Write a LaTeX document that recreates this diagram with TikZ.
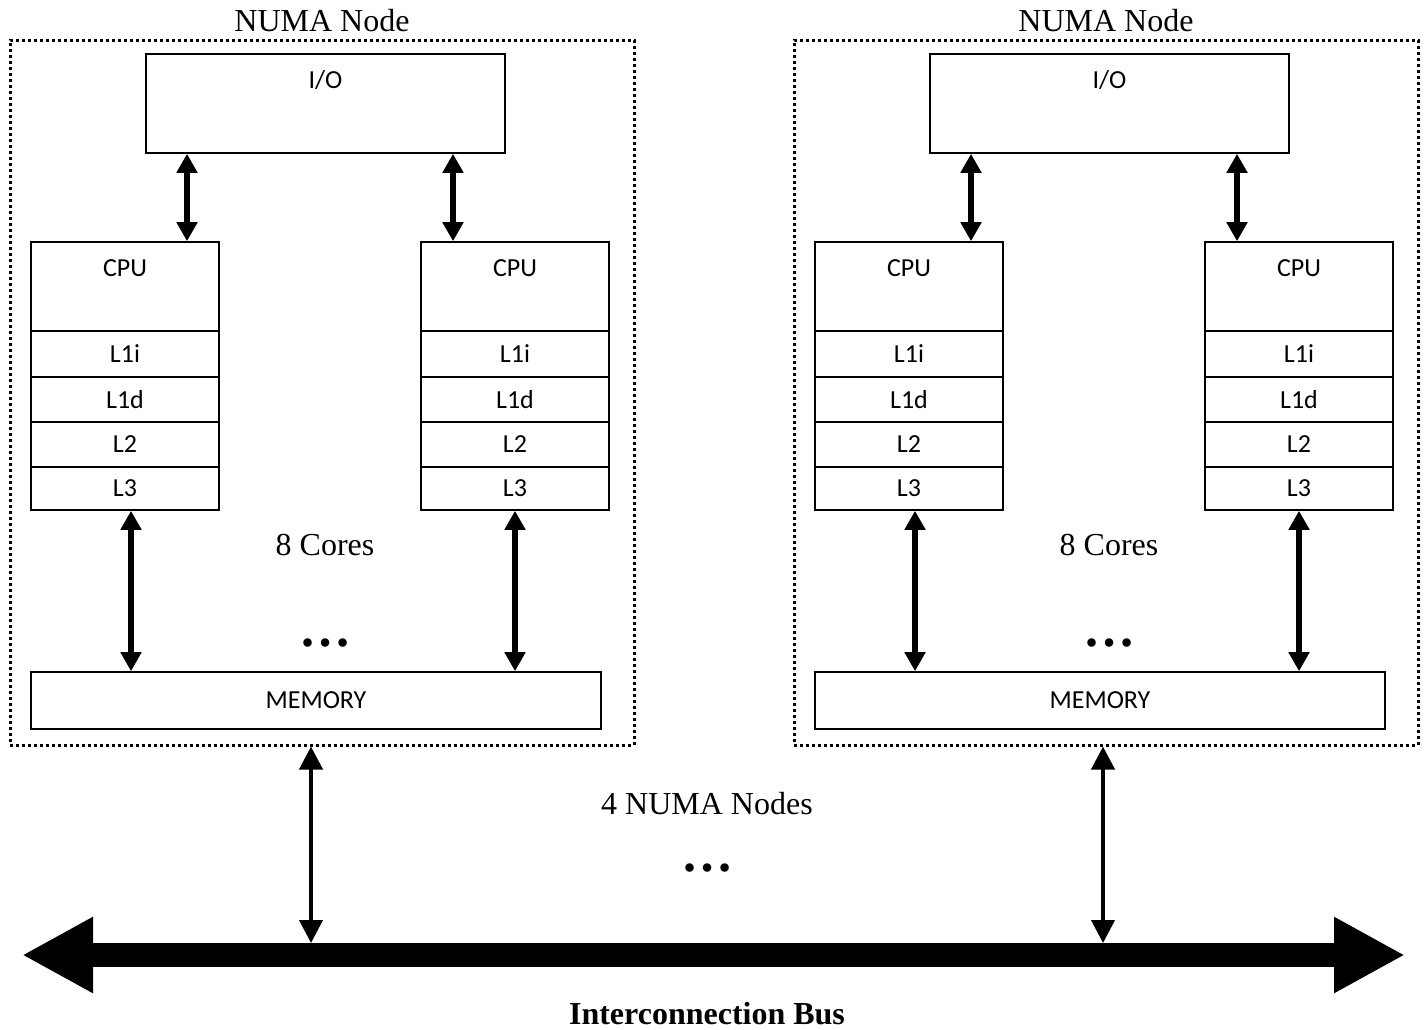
\documentclass[tikz,border=0pt]{standalone}
\usepackage{fontspec}
\setmainfont{Liberation Serif}
\newfontfamily\boxfont{Carlito}
\usetikzlibrary{arrows.meta,fit}

\begin{document}
\begin{tikzpicture}[x=0.5pt,y=-0.5pt,
  numa box/.style={draw,line width=1.5pt,dash pattern=on 1.5pt off 1.5pt,inner sep=0pt},
  unit box/.style={draw,line width=0.8pt,inner sep=0pt},
  box text/.style={inner sep=0pt,font=\boxfont\fontsize{13pt}{15pt}\selectfont},
  top text/.style={box text,anchor=base,yshift=-17.5pt},
  mid text/.style={box text,anchor=center},
  big text/.style={font=\fontsize{16pt}{19pt}\selectfont},
  dots/.style={font=\fontsize{26pt}{30pt}\selectfont\bfseries},
  link/.style={{Triangle[width=10pt,length=9.5pt]}-{Triangle[width=10pt,length=9.5pt]},line width=3pt},
  bus link/.style={{Triangle[width=11.5pt,length=11.5pt]}-{Triangle[width=11.5pt,length=11.5pt]},line width=2pt},
  bus/.style={{Triangle[width=35.5pt,length=35.5pt]}-{Triangle[width=35.5pt,length=35.5pt]},line width=12pt}]

  \useasboundingbox (0,0) rectangle (1427,1029);

  % two NUMA nodes
  \foreach \o/\n in {0/A,784/B} {
    \node[numa box, fit={(\o+10,40) (\o+634,745)},
          label={[big text,anchor=base,yshift=3.75pt,inner sep=0pt]north:NUMA Node}] (numa\n) {};
    \node[unit box, fit={(\o+146,54) (\o+505,153)},
          label={[top text]north:I/O}] (io\n) {};

    \foreach \c/\cx in {1/0,2/390} {
      \node[unit box, fit={(\o+\cx+31,242) (\o+\cx+219,331)},
            label={[top text]north:CPU}] (cpu\n\c) {};
      \foreach \r/\ya/\yb in {L1i/331/377,L1d/377/422,L2/422/467,L3/467/510}
        \node[unit box, fit={(\o+\cx+31,\ya) (\o+\cx+219,\yb)},
              label={[mid text]center:\r}] (\r\n\c) {};
    }

    \node[unit box, fit={(\o+31,672) (\o+601,729)},
          label={[mid text]center:MEMORY}] (mem\n) {};
    \node[big text] (cores\n) at (\o+325,545) {8 Cores};
    \node[dots] (moreCpu\n) at (\o+325,643) {…};

    \draw[link] ([xshift=31pt]cpu\n1.north |- io\n.south) -- ([xshift=31pt]cpu\n1.north);
    \draw[link] ([xshift=-31pt]cpu\n2.north |- io\n.south) -- ([xshift=-31pt]cpu\n2.north);
    \draw[link] ([xshift=3pt]L3\n1.south) -- ([xshift=3pt]L3\n1.south |- mem\n.north);
    \draw[link] (L3\n2.south) -- (L3\n2.south |- mem\n.north);
  }

  % interconnection bus
  \coordinate (busL) at (22,955);
  \coordinate (busR) at (1405,955);
  \coordinate (busTop) at (0,943);
  \draw[bus] (busL) -- (busR);

  \draw[bus link] ([xshift=-5.5pt]numaA.south) -- ([xshift=-5.5pt]numaA.south |- busTop);
  \draw[bus link] ([xshift=-1.5pt]numaB.south) -- ([xshift=-1.5pt]numaB.south |- busTop);

  \node[big text] (numaCount) at (707,804) {4 NUMA Nodes};
  \node[dots] (moreNuma) at (707,868) {…};
  \node[big text,inner sep=0pt,font=\fontsize{16pt}{19pt}\selectfont\bfseries] (busName) at (707,1014) {Interconnection Bus};
\end{tikzpicture}
\end{document}
